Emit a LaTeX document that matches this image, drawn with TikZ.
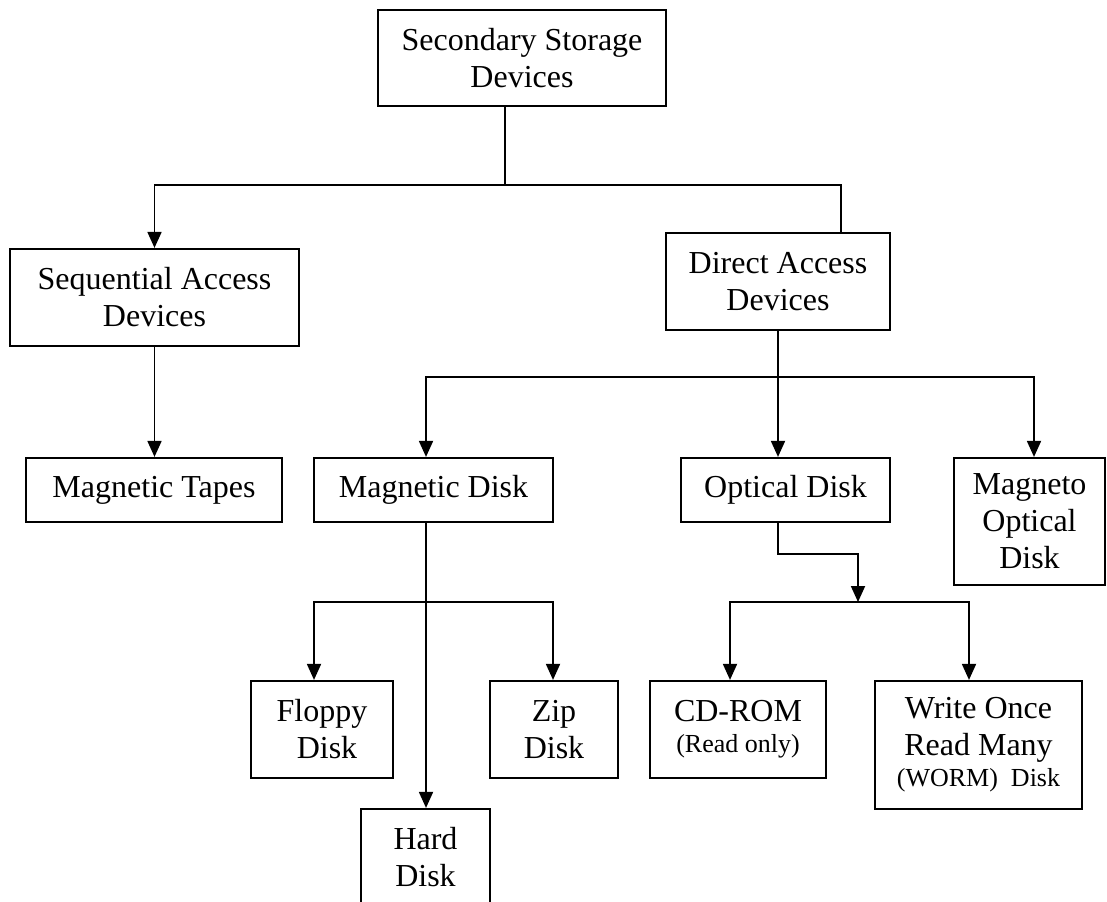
\documentclass[tikz,border=0pt]{standalone}
\usepackage{fontspec}
\setmainfont{Liberation Serif}
\usetikzlibrary{arrows.meta,calc}
\begin{document}
\begin{tikzpicture}[x=0.5pt,y=-0.5pt,
  box/.style={draw,line width=1.1pt,inner sep=0pt,align=center,font=\fontsize{16}{18.5}\selectfont},
  conn/.style={line width=0.9pt},
  arr/.style={conn,-{Triangle[length=8pt,width=7pt]}}]
\useasboundingbox (0,0) rectangle (1107,901);
% boxes
\node[box,minimum width=144pt,minimum height=48pt] (ssd) at (522,58) {Secondary Storage\\Devices};
\node[box,minimum width=144.5pt,minimum height=48.5pt] (seq) at (154.5,297.5) {Sequential Access\\Devices};
\node[box,minimum width=112pt,minimum height=48.5pt] (dad) at (778,281.5) {Direct Access\\Devices};
\node[box,minimum width=128pt,minimum height=32pt] (tapes) at (154,490) {Magnetic Tapes};
\node[box,minimum width=119.5pt,minimum height=32pt] (mdisk) at (433.5,490) {Magnetic Disk};
\node[box,minimum width=104.5pt,minimum height=32pt] (odisk) at (785.5,490) {Optical Disk};
\node[box,minimum width=75.5pt,minimum height=63.5pt] (mo) at (1029.5,521.5) {Magneto\\Optical\\Disk};
\node[box,minimum width=71pt,minimum height=48.5pt] (floppy) at (322,729.5) {Floppy\\\hspace*{5pt}Disk};
\node[box,minimum width=64pt,minimum height=48.5pt] (zip) at (554,729.5) {Zip\\Disk};
\node[box,minimum width=88pt,minimum height=48.5pt] (cdrom) at (738,729.5) {CD-ROM\\[-3pt]{\fontsize{13}{16}\selectfont (Read only)}};
\node[box,minimum width=103.5pt,minimum height=64pt] (worm) at (978.5,745) {Write Once\\Read Many\\[-3pt]{\fontsize{13}{16}\selectfont (WORM)\ \ Disk}};
\node[box,minimum width=64.5pt,minimum height=48.5pt] (hard) at (425.5,857.5) {Hard\\Disk};
% level 1
\coordinate (j1) at (505,185);
\coordinate (k1) at (841,185);
\draw[conn] (ssd.south -| j1) -- (j1);
\draw[arr] (j1) -| (seq.north);
\draw[conn] (j1) -- (k1) -- (k1 |- dad.north);
\draw[arr] (seq.south) -- (seq.south |- tapes.north);
% level 2
\coordinate (j2) at (778,377);
\coordinate (j2l) at (426,377);
\coordinate (j2r) at (1034,377);
\draw[arr] (dad.south) -- (j2 |- odisk.north);
\draw[arr] (j2) -- (j2l) -- (j2l |- mdisk.north);
\draw[arr] (j2) -- (j2r) -- (j2r |- mo.north);
% optical
\coordinate (o1) at (778,554);
\coordinate (o2) at (858,554);
\coordinate (o3) at (858,602);
\coordinate (o3l) at (730,602);
\coordinate (o3r) at (969,602);
\draw[arr] (o1 |- odisk.south) -- (o1) -- (o2) -- (o3);
\draw[arr] (o3) -- (o3l) -- (o3l |- cdrom.north);
\draw[arr] (o3) -- (o3r) -- (o3r |- worm.north);
% magnetic
\coordinate (m1) at (426,602);
\coordinate (m1l) at (314,602);
\coordinate (m1r) at (553,602);
\draw[arr] (m1 |- mdisk.south) -- (m1 |- hard.north);
\draw[arr] (m1) -- (m1l) -- (m1l |- floppy.north);
\draw[arr] (m1) -- (m1r) -- (m1r |- zip.north);
\end{tikzpicture}
\end{document}
